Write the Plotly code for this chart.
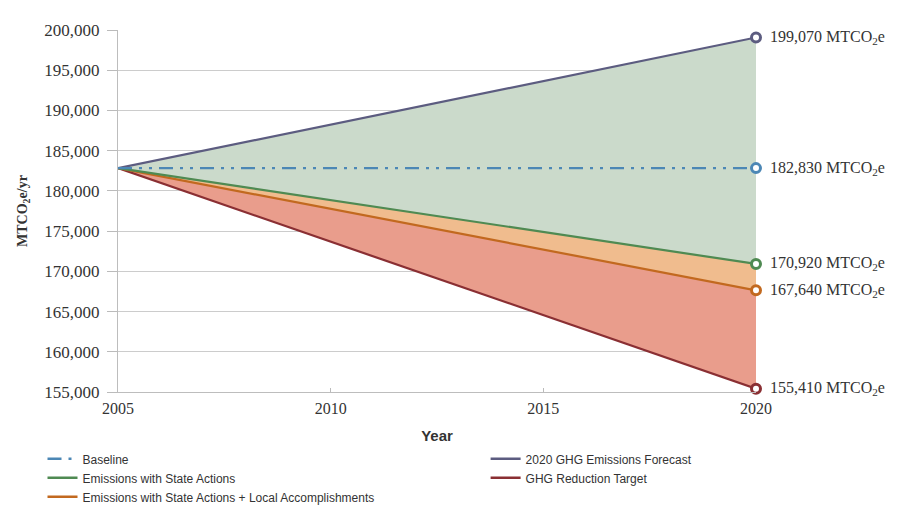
import plotly.graph_objects as go

years = [2005, 2020]
baseline = [182830, 182830]
forecast = [182830, 199070]
state_actions = [182830, 170920]
local_acc = [182830, 167640]
target = [182830, 155410]

end_labels = ["199,070", "182,830", "170,920", "167,640", "155,410"]
end_values = [199070, 182830, 170920, 167640, 155410]

y_ticks = list(range(155000, 200001, 5000))
x_ticks = [2005, 2010, 2015, 2020]

serif = "Liberation Serif, DejaVu Serif, serif"
sans = "Liberation Sans, sans-serif"

C_BASE = "#4c87b5"
C_FORE = "#5c5c80"
C_STATE = "#4f8a52"
C_LOCAL = "#c2691f"
C_TARGET = "#8a2f33"
BASE_DASH = "14px,7px,3px,7px,3px,7px"

fig = go.Figure()

# filled band traces (no legend)
fig.add_trace(go.Scatter(x=years, y=target, mode="lines", line=dict(color=C_TARGET, width=2.2),
                         showlegend=False, hoverinfo="skip"))
fig.add_trace(go.Scatter(x=years, y=local_acc, mode="lines", line=dict(color=C_LOCAL, width=2.2),
                         fill="tonexty", fillcolor="#e99d8c", showlegend=False))
fig.add_trace(go.Scatter(x=years, y=state_actions, mode="lines", line=dict(color=C_STATE, width=2.2),
                         fill="tonexty", fillcolor="#f0bc8e", showlegend=False))
fig.add_trace(go.Scatter(x=years, y=forecast, mode="lines", line=dict(color=C_FORE, width=2.2),
                         fill="tonexty", fillcolor="#cbdacb", showlegend=False))
fig.add_trace(go.Scatter(x=years, y=baseline, mode="lines", line=dict(color=C_BASE, width=2.2, dash=BASE_DASH),
                         showlegend=False))

# end markers
series = [(forecast, C_FORE), (baseline, C_BASE), (state_actions, C_STATE), (local_acc, C_LOCAL), (target, C_TARGET)]
for ys, c in series:
    fig.add_trace(go.Scatter(x=[years[-1]], y=[ys[-1]], mode="markers", showlegend=False, cliponaxis=False,
                             marker=dict(size=9, color="white", line=dict(color=c, width=3))))

# legend entries: column 1 -> legend, column 2 -> legend2
legend_items = [
    ("Baseline", C_BASE, BASE_DASH, "legend"),
    ("Emissions with State Actions", C_STATE, "solid", "legend"),
    ("Emissions with State Actions + Local Accomplishments", C_LOCAL, "solid", "legend"),
    ("2020 GHG Emissions Forecast", C_FORE, "solid", "legend2"),
    ("GHG Reduction Target", C_TARGET, "solid", "legend2"),
]
for name, c, d, lg in legend_items:
    fig.add_trace(go.Scatter(x=[None], y=[None], mode="lines", name=name, legend=lg,
                             line=dict(color=c, width=2.5, dash=d)))

for lab, val in zip(end_labels, end_values):
    fig.add_annotation(x=2020, y=val, xref="x", yref="y", xanchor="left", xshift=12,
                       text=f"{lab} MTCO<sub>2</sub>e", showarrow=False,
                       font=dict(family=serif, size=16, color="#333333"))

# y-axis title
fig.add_annotation(x=-0.149, y=0.5, xref="paper", yref="paper", xanchor="center", yanchor="middle",
                   text="<b>MTCO<sub>2</sub>e/yr</b>", textangle=-90, showarrow=False,
                   font=dict(family=serif, size=14, color="#333333"))

leg_common = dict(orientation="v", xref="container", yref="container", xanchor="left",
                  y=0.136, yanchor="top", traceorder="normal", tracegroupgap=0,
                  font=dict(family=sans, size=12, color="#333333"), bgcolor="rgba(0,0,0,0)")

fig.update_layout(
    width=908, height=505,
    margin=dict(l=110, r=160, t=22, b=121, autoexpand=False),
    paper_bgcolor="white", plot_bgcolor="white",
    showlegend=True,
    legend=dict(x=0.038, **leg_common),
    legend2=dict(x=0.526, **leg_common),
)
fig.update_xaxes(range=[2005, 2020], tickvals=x_ticks, ticks="inside", ticklen=4, tickcolor="#bbbbbb",
                 showgrid=False, showline=True, linecolor="#bdbdbd", zeroline=False,
                 tickfont=dict(family=serif, size=16, color="#333333"), ticklabelstandoff=2,
                 title=dict(text="<b>Year</b>", font=dict(family=sans, size=15, color="#333333"), standoff=14))
fig.update_yaxes(range=[155000, 200000], tickvals=y_ticks, tickformat=",", ticks="outside", ticklen=10,
                 tickcolor="#bbbbbb", showgrid=True, gridcolor="#cccccc", gridwidth=1,
                 showline=True, linecolor="#bdbdbd", zeroline=False, ticklabelstandoff=4,
                 tickfont=dict(family=serif, size=17, color="#333333"))

fig.write_html("out.html")
